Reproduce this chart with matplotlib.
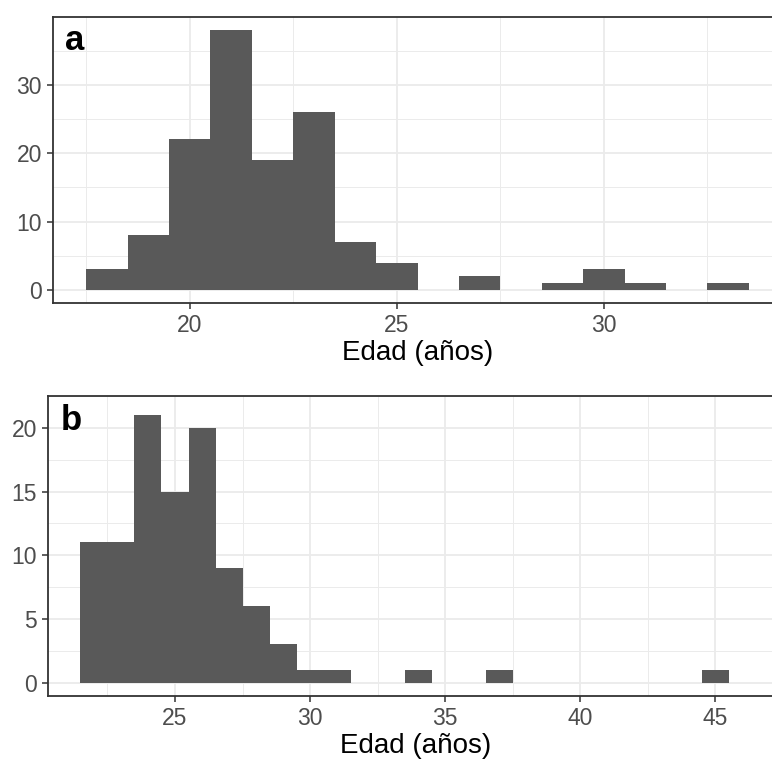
import matplotlib
matplotlib.use("Agg")
import matplotlib.pyplot as plt
import numpy as np

# histogram bins (centres, width 1 year) and counts
edad_a = [18, 19, 20, 21, 22, 23, 24, 25, 26, 27, 28, 29, 30, 31, 32, 33]
n_a = [3, 8, 22, 38, 19, 26, 7, 4, 0, 2, 0, 1, 3, 1, 0, 1]

edad_b = [22, 23, 24, 25, 26, 27, 28, 29, 30, 31, 32, 33, 34, 35, 36, 37,
          38, 39, 40, 41, 42, 43, 44, 45]
n_b = [11, 11, 21, 15, 20, 9, 6, 3, 1, 1, 0, 0, 1, 0, 0, 1,
       0, 0, 0, 0, 0, 0, 0, 1]

xt_a = [20, 25, 30]
yt_a = [0, 10, 20, 30]
xt_b = [25, 30, 35, 40, 45]
yt_b = [0, 5, 10, 15, 20]

plt.rcParams["font.family"] = ["Liberation Sans", "DejaVu Sans"]

fig = plt.figure(figsize=(7.72, 7.65), dpi=100)
ax_a = fig.add_axes([53/772, 1-303/765, 729/772, 286/765])
ax_b = fig.add_axes([48/772, 1-696/765, 735/772, 300/765])


def panel(ax, x, n, xt, yt, letter):
    ax.bar(x, n, width=1.0, color="#595959", linewidth=0, zorder=3)
    lo, hi = min(x) - 0.5, max(x) + 0.5
    pad = (hi - lo)*0.05
    ax.set_xlim(lo - pad, hi + pad)
    ax.set_ylim(-max(n)*0.05, max(n)*1.05)
    ax.set_xticks(xt)
    ax.set_yticks(yt)
    dx = (xt[1]-xt[0])/2
    dy = (yt[1]-yt[0])/2
    ax.set_xticks([xt[0]-dx] + [t + dx for t in xt], minor=True)
    ax.set_yticks([t + dy for t in yt], minor=True)
    ax.grid(which="major", color="#EBEBEB", linewidth=1.3, zorder=0)
    ax.grid(which="minor", color="#EBEBEB", linewidth=0.7, zorder=0)
    ax.set_axisbelow(True)
    for s in ax.spines.values():
        s.set_color("#333333")
        s.set_linewidth(1.3)
    ax.tick_params(which="major", length=4, width=1.1, color="#333333",
                   labelsize=16.5, labelcolor="#4D4D4D", pad=4)
    ax.tick_params(which="minor", length=0)
    ax.set_xlabel("Edad (años)", fontsize=20, color="black", labelpad=2)
    ax.text(0.017, 0.975, letter, transform=ax.transAxes, fontsize=25,
            fontweight="bold", va="top", ha="left")


panel(ax_a, edad_a, n_a, xt_a, yt_a, "a")
panel(ax_b, edad_b, n_b, xt_b, yt_b, "b")

fig.savefig("out.png", dpi=100)
